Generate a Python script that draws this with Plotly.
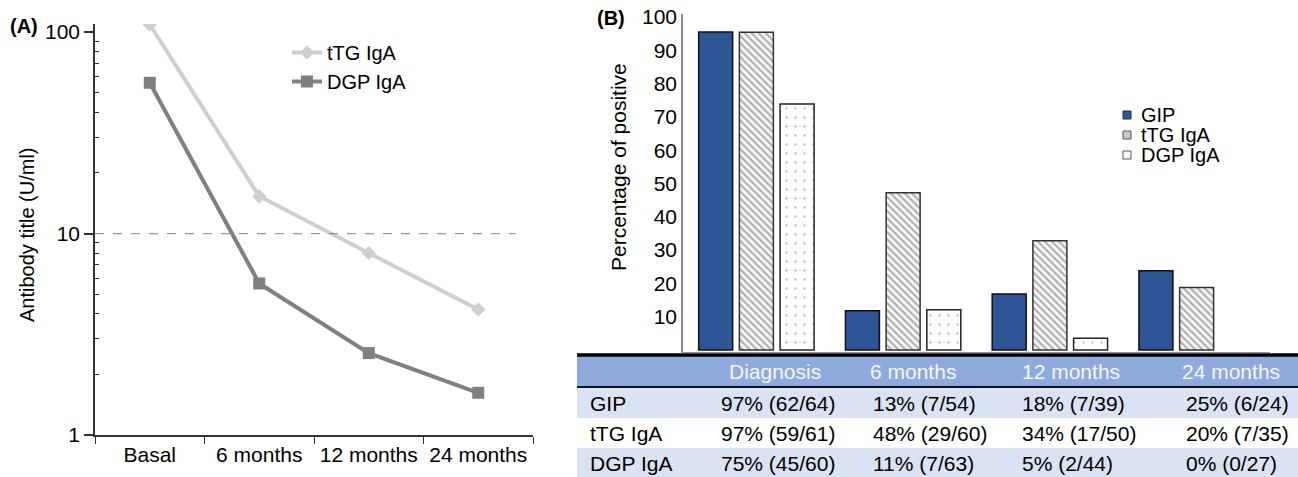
import plotly.graph_objects as go

W, H = 1298, 477

# ---------------- data ----------------
times_a = ["Basal", "6 months", "12 months", "24 months"]
ttg_titre = [109, 15.3, 8.0, 4.2]
dgp_titre = [56, 5.65, 2.55, 1.62]
cutoff = 10

times_b = ["Diagnosis", "6 months", "12 months", "24 months"]
gip_pct = [95.5, 11.8, 16.8, 23.8]
ttg_pct = [95.4, 47.2, 32.8, 18.8]
dgp_pct = [73.9, 12.1, 3.5, 0]

table_rows = ["GIP", "tTG IgA", "DGP IgA"]
table_gip = ["97% (62/64)", "13% (7/54)", "18% (7/39)", "25% (6/24)"]
table_ttg = ["97% (59/61)", "48% (29/60)", "34% (17/50)", "20% (7/35)"]
table_dgp = ["75% (45/60)", "11% (7/63)", "5% (2/44)", "0% (0/27)"]

FONT = "Liberation Sans, Arial, sans-serif"


def px(x):
    return x / W


def py(y):
    return (H - y) / H


fig = go.Figure()

# ---------------- panel A ----------------
fig.add_trace(go.Scatter(
    x=times_a, y=ttg_titre, name="tTG IgA", mode="lines+markers",
    line=dict(color="#CFCFCF", width=4),
    marker=dict(symbol="diamond", size=11, color="#CFCFCF"),
    xaxis="x", yaxis="y", legend="legend"))
fig.add_trace(go.Scatter(
    x=times_a, y=dgp_titre, name="DGP IgA", mode="lines+markers",
    line=dict(color="#808080", width=4),
    marker=dict(symbol="square", size=12, color="#808080"),
    xaxis="x", yaxis="y", legend="legend"))

# ---------------- panel B ----------------
fig.add_trace(go.Bar(
    x=times_b, y=gip_pct, name="GIP", xaxis="x2", yaxis="y2",
    marker=dict(color="#2E5595", line=dict(color="#111111", width=1.5)),
    showlegend=False))
fig.add_trace(go.Bar(
    x=times_b, y=ttg_pct, name="tTG IgA", xaxis="x2", yaxis="y2",
    marker=dict(color="white", line=dict(color="#333333", width=1.5),
                pattern=dict(shape="\\", fgcolor="#ABABAB", bgcolor="#F6F6F6",
                             size=5, solidity=0.4)),
    showlegend=False))
fig.add_trace(go.Bar(
    x=times_b, y=dgp_pct, name="DGP IgA", xaxis="x2", yaxis="y2",
    marker=dict(color="white",
                line=dict(color="#222222", width=[1.5 if v > 0 else 0 for v in dgp_pct]),
                pattern=dict(shape=".", fgcolor="#BDBDBD", bgcolor="white",
                             size=9, solidity=0.05)),
    showlegend=False))

shapes = []
annotations = []

# cutoff line panel A
shapes.append(dict(type="line", xref="x domain", yref="y", x0=0, x1=0.96,
                   y0=cutoff, y1=cutoff,
                   line=dict(color="#9A9A9A", width=1.3, dash="dash")))

# table backgrounds
shapes.append(dict(type="rect", xref="paper", yref="paper",
                   x0=px(577), x1=1, y0=py(387), y1=py(356),
                   fillcolor="#8FAADC", line=dict(width=0), layer="below"))
row_fill = ["#DAE3F3", "white", "#DAE3F3"]
row_edges = [(387, 418), (418, 448), (448, 477)]
for (t, b), c in zip(row_edges, row_fill):
    shapes.append(dict(type="rect", xref="paper", yref="paper",
                       x0=px(577), x1=1, y0=py(b), y1=py(t),
                       fillcolor=c, line=dict(width=0), layer="below"))
# thick black lines
shapes.append(dict(type="line", xref="paper", yref="paper",
                   x0=px(577), x1=1, y0=py(355), y1=py(355),
                   line=dict(color="black", width=3.5)))
shapes.append(dict(type="line", xref="paper", yref="paper",
                   x0=px(577), x1=1, y0=py(387), y1=py(387),
                   line=dict(color="#111111", width=2)))

# table text
head_x = [727, 868, 1020, 1180]
val_x = [719, 871, 1020, 1184]
for lab, xx in zip(times_b, head_x):
    annotations.append(dict(text=lab, x=px(xx), y=py(371), xref="paper", yref="paper",
                            xanchor="left", yanchor="middle", showarrow=False,
                            font=dict(family=FONT, size=21, color="#F4F7FC")))
row_y = [403, 433, 463]
for name, vals, yy in zip(table_rows, [table_gip, table_ttg, table_dgp], row_y):
    annotations.append(dict(text=name, x=px(588), y=py(yy), xref="paper", yref="paper",
                            xanchor="left", yanchor="middle", showarrow=False,
                            font=dict(family=FONT, size=21, color="black")))
    for v, xx in zip(vals, val_x):
        annotations.append(dict(text=v, x=px(xx), y=py(yy), xref="paper", yref="paper",
                                xanchor="left", yanchor="middle", showarrow=False,
                                font=dict(family=FONT, size=21, color="black")))

# manual legend for panel B
leg_items = [("GIP", "#2E5595", "#1a2f5a"), ("tTG IgA", "#C8C8C8", "#555555"),
             ("DGP IgA", "white", "#555555")]
for i, (lab, fc, lc) in enumerate(leg_items):
    yc = 115 + 20 * i
    shapes.append(dict(type="rect", xref="paper", yref="paper",
                       x0=px(1123), x1=px(1131), y0=py(yc + 4), y1=py(yc - 4),
                       fillcolor=fc, line=dict(color=lc, width=1)))
    annotations.append(dict(text=lab, x=px(1139), y=py(yc), xref="paper", yref="paper",
                            xanchor="left", yanchor="middle", showarrow=False,
                            font=dict(family=FONT, size=20, color="black")))

# panel labels and titles
annotations.append(dict(text="<b>(A)</b>", x=px(8), y=py(26), xref="paper", yref="paper",
                        xanchor="left", yanchor="middle", showarrow=False,
                        font=dict(family=FONT, size=20, color="black")))
annotations.append(dict(text="<b>(B)</b>", x=px(595), y=py(18), xref="paper", yref="paper",
                        xanchor="left", yanchor="middle", showarrow=False,
                        font=dict(family=FONT, size=20, color="black")))
annotations.append(dict(text="Antibody title (U/ml)", x=px(27), y=py(235), xref="paper",
                        yref="paper", xanchor="center", yanchor="middle", textangle=-90,
                        showarrow=False, font=dict(family=FONT, size=20, color="black")))
annotations.append(dict(text="Percentage of positive", x=px(618), y=py(167), xref="paper",
                        yref="paper", xanchor="center", yanchor="middle", textangle=-90,
                        showarrow=False, font=dict(family=FONT, size=21, color="black")))

fig.update_layout(
    template="none",
    width=W, height=H, autosize=False,
    margin=dict(l=0, r=0, t=0, b=0, pad=0),
    paper_bgcolor="white", plot_bgcolor="white",
    font=dict(family=FONT, size=20, color="black"),
    barmode="group", bargap=0.168, bargroupgap=0.165,
    shapes=shapes, annotations=annotations,
    xaxis=dict(domain=[px(95), px(533)], anchor="y", type="category", automargin=False,
               range=[-0.5, 3.5], tickson="boundaries", ticks="outside", ticklen=7,
               tickwidth=1.3, tickcolor="#333333", showline=True, linecolor="#333333",
               linewidth=1.5, showgrid=False, zeroline=False,
               tickfont=dict(size=21, color="black")),
    yaxis=dict(domain=[py(435), py(24)], anchor="x", type="log", range=[0, 2.04],
               automargin=False,
               tickvals=[1, 10, 100], ticktext=["1", "10", "100"],
               ticks="outside", ticklen=9, tickwidth=1.5, tickcolor="#333333",
               showline=True, linecolor="#333333", linewidth=1.5, showgrid=False,
               zeroline=False, tickfont=dict(size=21, color="black"),
               minor=dict(tickvals=[2, 3, 4, 5, 6, 7, 8, 9, 20, 30, 40, 50, 60, 70, 80, 90],
                          ticks="inside", ticklen=4, tickwidth=1.2, tickcolor="#333333",
                          showgrid=False)),
    xaxis2=dict(domain=[px(683), px(1270)], anchor="y2", type="category", automargin=False,
                range=[-0.5, 3.5], showticklabels=False, ticks="", showgrid=False,
                showline=True, linecolor="#999999", linewidth=1, zeroline=False),
    yaxis2=dict(domain=[py(352), py(14)], anchor="x2", range=[-0.6, 100.9],
                automargin=False,
                tickvals=[10, 20, 30, 40, 50, 60, 70, 80, 90, 100], ticks="",
                showline=True, linecolor="#8A8A8A", linewidth=1.5, showgrid=False,
                zeroline=False, tickfont=dict(size=21, color="black")),
    legend=dict(x=px(287), y=py(33), xanchor="left", yanchor="top",
                bgcolor="rgba(0,0,0,0)", font=dict(size=20, color="black"),
                itemwidth=30, tracegroupgap=0),
)

fig.write_html("out.html", config={"displayModeBar": False},
               post_script="document.body.style.margin='0';document.body.style.overflow='hidden';")
